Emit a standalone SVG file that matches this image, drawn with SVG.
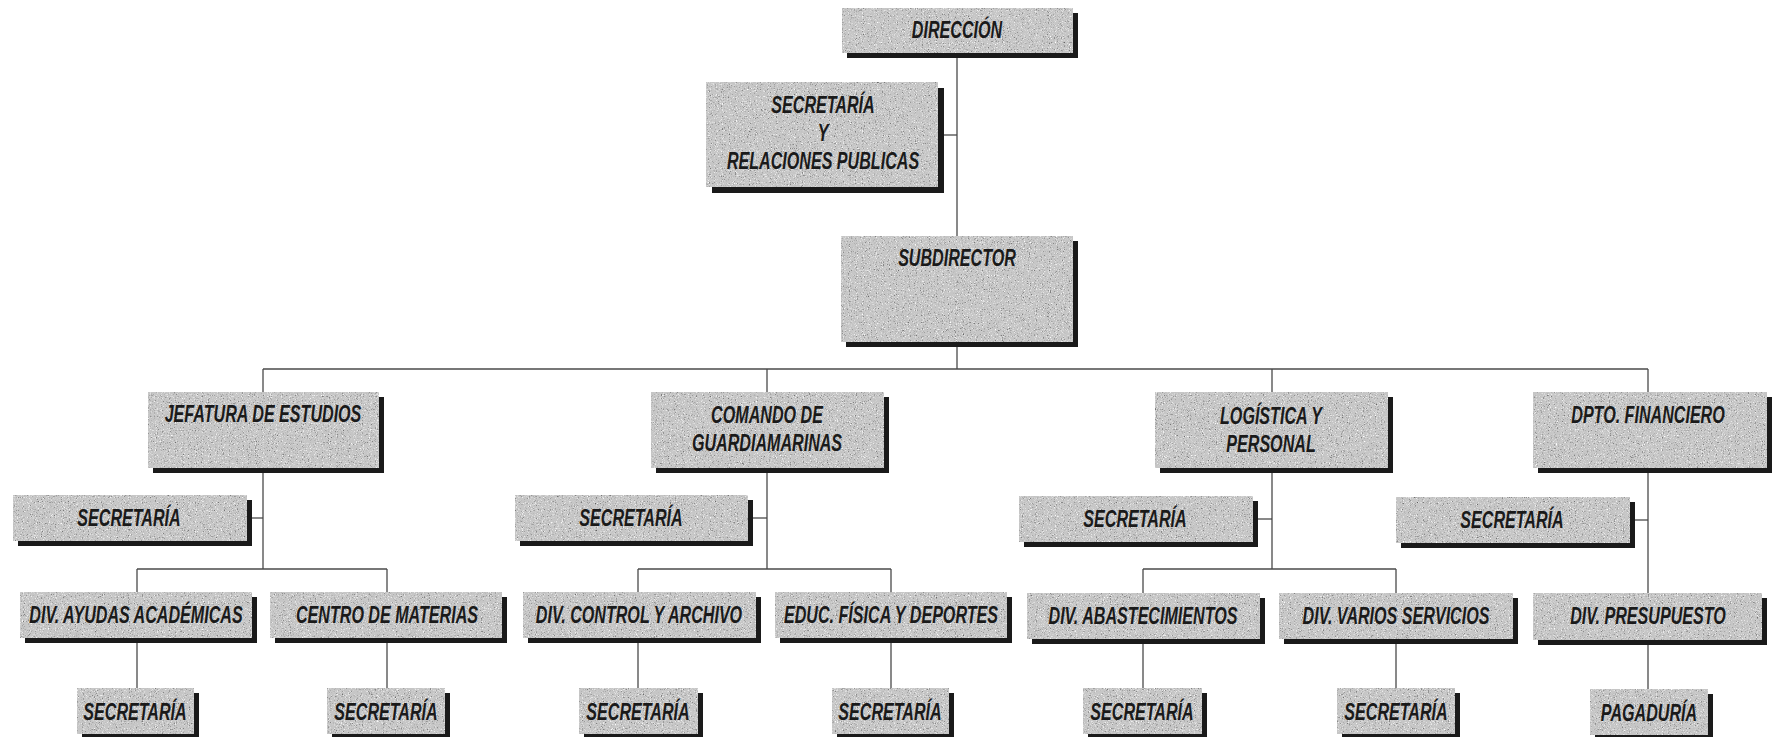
<svg xmlns="http://www.w3.org/2000/svg" width="1772" height="737" viewBox="0 0 1772 737">
  <style>
    .ln { stroke: #4a4a4a; stroke-width: 1.3; fill: none; }
    .sh { fill: #1a1a1a; }
    .bx { fill: #c6c6c6; filter: url(#grain); }
    /* narrow bold italic lettering: regular face squeezed to 70 % width by each label's transform */
    .t { font-family: "Liberation Sans", Arial, sans-serif; font-weight: bold; font-style: italic; font-size: 23px; fill: #1a1a1a; text-anchor: middle; }
  </style>
  <defs>
    <!-- speckled paper texture for box faces -->
    <filter id="grain" x="0" y="0" width="100%" height="100%" color-interpolation-filters="sRGB">
      <feTurbulence type="fractalNoise" baseFrequency="0.85" numOctaves="2" seed="7" result="n"/>
      <feColorMatrix in="n" type="matrix" values="0 0 0 0 1  0 0 0 0 1  0 0 0 0 1  3.2 0 0 0 -1.75" result="light"/>
      <feColorMatrix in="n" type="matrix" values="0 0 0 0 0.35  0 0 0 0 0.35  0 0 0 0 0.35  0 -3 0 0 1.25" result="dark"/>
      <feComposite in="light" in2="SourceGraphic" operator="in" result="l2"/>
      <feComposite in="dark" in2="SourceGraphic" operator="in" result="d2"/>
      <feMerge>
        <feMergeNode in="SourceGraphic"/>
        <feMergeNode in="d2"/>
        <feMergeNode in="l2"/>
      </feMerge>
    </filter>
  </defs>
  <rect width="1772" height="737" fill="#ffffff"/>

  <g id="connectors">
    <line class="ln" x1="957" y1="53" x2="957" y2="369"/>
    <line class="ln" x1="938" y1="135" x2="957" y2="135"/>
    <line class="ln" x1="263" y1="369" x2="1648" y2="369"/>
    <!-- column 1 -->
    <line class="ln" x1="263" y1="369" x2="263" y2="569"/>
    <line class="ln" x1="247" y1="518" x2="263" y2="518"/>
    <line class="ln" x1="137" y1="569" x2="387" y2="569"/>
    <line class="ln" x1="137" y1="569" x2="137" y2="688"/>
    <line class="ln" x1="387" y1="569" x2="387" y2="688"/>
    <!-- column 2 -->
    <line class="ln" x1="767" y1="369" x2="767" y2="569"/>
    <line class="ln" x1="748" y1="518" x2="767" y2="518"/>
    <line class="ln" x1="638" y1="569" x2="891" y2="569"/>
    <line class="ln" x1="638" y1="569" x2="638" y2="688"/>
    <line class="ln" x1="891" y1="569" x2="891" y2="688"/>
    <!-- column 3 -->
    <line class="ln" x1="1272" y1="369" x2="1272" y2="569"/>
    <line class="ln" x1="1253" y1="519" x2="1272" y2="519"/>
    <line class="ln" x1="1143" y1="569" x2="1396" y2="569"/>
    <line class="ln" x1="1143" y1="569" x2="1143" y2="688"/>
    <line class="ln" x1="1396" y1="569" x2="1396" y2="688"/>
    <!-- column 4 -->
    <line class="ln" x1="1648" y1="369" x2="1648" y2="689"/>
    <line class="ln" x1="1630" y1="520" x2="1648" y2="520"/>
  </g>

  <g id="direccion">
    <rect class="sh" x="847" y="13" width="231" height="45"/>
    <rect class="bx" x="842" y="8" width="231" height="45"/>
    <text class="t" transform="translate(957 38) scale(0.7 1)">DIRECCIÓN</text>
  </g>
  <g id="secretaria-relaciones">
    <rect class="sh" x="712" y="88" width="232" height="105"/>
    <rect class="bx" x="706" y="82" width="232" height="105"/>
    <text class="t" transform="translate(823 113) scale(0.7 1)">SECRETARÍA</text>
    <text class="t" transform="translate(823 141) scale(0.7 1)">Y</text>
    <text class="t" transform="translate(823 169) scale(0.7 1)">RELACIONES PUBLICAS</text>
  </g>
  <g id="subdirector">
    <rect class="sh" x="846" y="241" width="232" height="106"/>
    <rect class="bx" x="841" y="236" width="232" height="106"/>
    <text class="t" transform="translate(957 266) scale(0.7 1)">SUBDIRECTOR</text>
  </g>

  <!-- second level -->
  <g id="jefatura">
    <rect class="sh" x="153" y="397" width="231" height="76"/>
    <rect class="bx" x="148" y="392" width="231" height="76"/>
    <text class="t" transform="translate(263 422) scale(0.7 1)">JEFATURA DE ESTUDIOS</text>
  </g>
  <g id="comando">
    <rect class="sh" x="656" y="397" width="233" height="76"/>
    <rect class="bx" x="651" y="392" width="233" height="76"/>
    <text class="t" transform="translate(767 423) scale(0.7 1)">COMANDO DE</text>
    <text class="t" transform="translate(767 451) scale(0.7 1)">GUARDIAMARINAS</text>
  </g>
  <g id="logistica">
    <rect class="sh" x="1160" y="397" width="233" height="76"/>
    <rect class="bx" x="1155" y="392" width="233" height="76"/>
    <text class="t" transform="translate(1271 424) scale(0.7 1)">LOGÍSTICA Y</text>
    <text class="t" transform="translate(1271 452) scale(0.7 1)">PERSONAL</text>
  </g>
  <g id="financiero">
    <rect class="sh" x="1538" y="397" width="234" height="76"/>
    <rect class="bx" x="1533" y="392" width="234" height="76"/>
    <text class="t" transform="translate(1648 423) scale(0.7 1)">DPTO. FINANCIERO</text>
  </g>

  <!-- secretariats of second level -->
  <g id="sec-jefatura">
    <rect class="sh" x="18" y="500" width="234" height="46"/>
    <rect class="bx" x="13" y="495" width="234" height="46"/>
    <text class="t" transform="translate(129 526) scale(0.7 1)">SECRETARÍA</text>
  </g>
  <g id="sec-comando">
    <rect class="sh" x="520" y="500" width="233" height="46"/>
    <rect class="bx" x="515" y="495" width="233" height="46"/>
    <text class="t" transform="translate(631 526) scale(0.7 1)">SECRETARÍA</text>
  </g>
  <g id="sec-logistica">
    <rect class="sh" x="1024" y="501" width="234" height="46"/>
    <rect class="bx" x="1019" y="496" width="234" height="46"/>
    <text class="t" transform="translate(1135 527) scale(0.7 1)">SECRETARÍA</text>
  </g>
  <g id="sec-financiero">
    <rect class="sh" x="1401" y="502" width="234" height="46"/>
    <rect class="bx" x="1396" y="497" width="234" height="46"/>
    <text class="t" transform="translate(1512 528) scale(0.7 1)">SECRETARÍA</text>
  </g>

  <!-- divisions -->
  <g id="div-ayudas">
    <rect class="sh" x="25" y="597" width="232" height="46"/>
    <rect class="bx" x="20" y="592" width="232" height="46"/>
    <text class="t" transform="translate(136 623) scale(0.7 1)">DIV. AYUDAS ACADÉMICAS</text>
  </g>
  <g id="centro-materias">
    <rect class="sh" x="275" y="597" width="232" height="46"/>
    <rect class="bx" x="270" y="592" width="232" height="46"/>
    <text class="t" transform="translate(387 623) scale(0.7 1)">CENTRO DE MATERIAS</text>
  </g>
  <g id="div-control">
    <rect class="sh" x="528" y="597" width="233" height="46"/>
    <rect class="bx" x="523" y="592" width="233" height="46"/>
    <text class="t" transform="translate(639 623) scale(0.7 1)">DIV. CONTROL Y ARCHIVO</text>
  </g>
  <g id="educ-fisica">
    <rect class="sh" x="780" y="597" width="232" height="46"/>
    <rect class="bx" x="775" y="592" width="232" height="46"/>
    <text class="t" transform="translate(891 623) scale(0.7 1)">EDUC. FÍSICA Y DEPORTES</text>
  </g>
  <g id="div-abastecimientos">
    <rect class="sh" x="1032" y="598" width="233" height="46"/>
    <rect class="bx" x="1027" y="593" width="233" height="46"/>
    <text class="t" transform="translate(1143 624) scale(0.7 1)">DIV. ABASTECIMIENTOS</text>
  </g>
  <g id="div-varios">
    <rect class="sh" x="1284" y="598" width="234" height="46"/>
    <rect class="bx" x="1279" y="593" width="234" height="46"/>
    <text class="t" transform="translate(1396 624) scale(0.7 1)">DIV. VARIOS SERVICIOS</text>
  </g>
  <g id="div-presupuesto">
    <rect class="sh" x="1538" y="598" width="229" height="47"/>
    <rect class="bx" x="1533" y="593" width="229" height="47"/>
    <text class="t" transform="translate(1648 624) scale(0.7 1)">DIV. PRESUPUESTO</text>
  </g>

  <!-- bottom level -->
  <g id="sec-ayudas">
    <rect class="sh" x="82" y="693" width="117" height="46"/>
    <rect class="bx" x="77" y="688" width="117" height="46"/>
    <text class="t" transform="translate(135 720) scale(0.7 1)">SECRETARÍA</text>
  </g>
  <g id="sec-materias">
    <rect class="sh" x="332" y="693" width="118" height="46"/>
    <rect class="bx" x="327" y="688" width="118" height="46"/>
    <text class="t" transform="translate(386 720) scale(0.7 1)">SECRETARÍA</text>
  </g>
  <g id="sec-control">
    <rect class="sh" x="584" y="693" width="119" height="46"/>
    <rect class="bx" x="579" y="688" width="119" height="46"/>
    <text class="t" transform="translate(638 720) scale(0.7 1)">SECRETARÍA</text>
  </g>
  <g id="sec-educ">
    <rect class="sh" x="837" y="693" width="117" height="46"/>
    <rect class="bx" x="832" y="688" width="117" height="46"/>
    <text class="t" transform="translate(890 720) scale(0.7 1)">SECRETARÍA</text>
  </g>
  <g id="sec-abastecimientos">
    <rect class="sh" x="1088" y="693" width="119" height="46"/>
    <rect class="bx" x="1083" y="688" width="119" height="46"/>
    <text class="t" transform="translate(1142 720) scale(0.7 1)">SECRETARÍA</text>
  </g>
  <g id="sec-varios">
    <rect class="sh" x="1342" y="693" width="118" height="46"/>
    <rect class="bx" x="1337" y="688" width="118" height="46"/>
    <text class="t" transform="translate(1396 720) scale(0.7 1)">SECRETARÍA</text>
  </g>
  <g id="pagaduria">
    <rect class="sh" x="1595" y="694" width="118" height="46"/>
    <rect class="bx" x="1590" y="689" width="118" height="46"/>
    <text class="t" transform="translate(1649 721) scale(0.7 1)">PAGADURÍA</text>
  </g>
</svg>
